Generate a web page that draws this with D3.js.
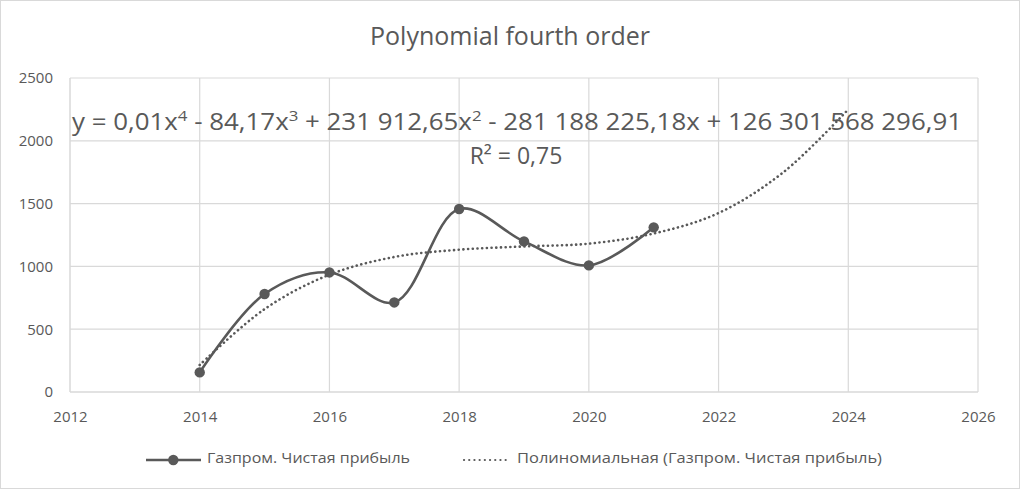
<!DOCTYPE html>
<html>
<head>
<meta charset="utf-8">
<script src="https://cdn.jsdelivr.net/npm/d3@7"></script>
<style>
  body { margin: 0; background: #fff; }
  svg { display: block; font-family: "Open Sans", "Noto Sans", sans-serif; }
</style>
</head>
<body>
<div id="chart"></div>
<script>
// data
const years   = [2014, 2015, 2016, 2017, 2018, 2019, 2020, 2021]
const profit  = [156, 780, 952, 713, 1457, 1199, 1008, 1311]
const trendX  = [2014, 2015, 2016, 2017, 2018, 2019, 2020, 2021, 2022, 2023, 2024]
const trendY  = [215, 660, 934, 1075, 1133, 1159, 1181, 1262, 1425, 1750, 2250]
const xTicks  = [2012, 2014, 2016, 2018, 2020, 2022, 2024, 2026]
const yTicks  = [0, 500, 1000, 1500, 2000, 2500]
const seriesName = 'Газпром. Чистая прибыль'
const trendName  = 'Полиномиальная (Газпром. Чистая прибыль)'

const W = 1021, H = 490,
      m = { left: 70, right: 1021 - 978, top: 78, bottom: 490 - 392 },
      ink = '#595959', grid = '#d9d9d9'

const svg = d3.select('#chart').append('svg').attr('width', W).attr('height', H)

svg.append('rect')
  .attr('x', 0.5).attr('y', 0.5).attr('width', W - 2).attr('height', H - 2)
  .attr('fill', '#fff').attr('stroke', grid)

const x = d3.scaleLinear().domain([2012, 2026]).range([m.left, W - m.right]),
      y = d3.scaleLinear().domain([0, 2500]).range([H - m.bottom, m.top])

// grid
svg.append('g')
  .selectAll('line.h').data(yTicks).enter().append('line')
  .attr('x1', x(2012)).attr('x2', x(2026))
  .attr('y1', d => y(d)).attr('y2', d => y(d))
  .attr('stroke', grid).attr('stroke-width', d => d === 0 ? 1.5 : 1.2)

svg.append('g')
  .selectAll('line.v').data(xTicks).enter().append('line')
  .attr('y1', y(0)).attr('y2', y(2500))
  .attr('x1', d => x(d)).attr('x2', d => x(d))
  .attr('stroke', grid).attr('stroke-width', d => d === 2012 ? 1.5 : 1.2)

// axis labels
const yAxis = svg.append('g').attr('transform', `translate(${x(2012) - 17},0)`)
  .call(d3.axisLeft(y).tickValues(yTicks).tickFormat(d3.format('d')).tickSize(0).tickPadding(0))
yAxis.select('.domain').remove()
yAxis.selectAll('text').attr('fill', ink).style('font-size', '15px')
  .style('font-family', '"Open Sans", sans-serif')

const xAxis = svg.append('g').attr('transform', `translate(0,${y(0) + 19})`)
  .call(d3.axisBottom(x).tickValues(xTicks).tickFormat(d3.format('d')).tickSize(0).tickPadding(0))
xAxis.select('.domain').remove()
xAxis.selectAll('text').attr('fill', ink).style('font-size', '15px')
  .style('font-family', '"Open Sans", sans-serif')

// title
svg.append('text')
  .attr('x', 510).attr('y', 45).attr('text-anchor', 'middle')
  .attr('fill', ink).style('font-size', '25px')
  .attr('textLength', 280).attr('lengthAdjust', 'spacingAndGlyphs')
  .text('Polynomial fourth order')

// trendline
svg.append('path')
  .datum(d3.zip(trendX, trendY))
  .attr('fill', 'none').attr('stroke', ink).attr('stroke-width', 2.6)
  .attr('stroke-dasharray', '0.1,4.6').attr('stroke-linecap', 'round')
  .attr('d', d3.line().x(d => x(d[0])).y(d => y(d[1])).curve(d3.curveCatmullRom))

// series
const pts = d3.zip(years, profit)
svg.append('path')
  .datum(pts)
  .attr('fill', 'none').attr('stroke', ink).attr('stroke-width', 2.6)
  .attr('d', d3.line().x(d => x(d[0])).y(d => y(d[1])).curve(d3.curveCatmullRom.alpha(0.5)))

svg.append('g').selectAll('circle').data(pts).enter().append('circle')
  .attr('cx', d => x(d[0])).attr('cy', d => y(d[1])).attr('r', 5.2).attr('fill', ink)

// equation label
const eq = svg.append('text')
  .attr('x', 72).attr('y', 130).attr('fill', ink).style('font-size', '23px')
const parts = [['y = 0,01x'], ['4', 1], [' - 84,17x'], ['3', 1], [' + 231 912,65x'], ['2', 1],
               [' - 281 188 225,18x + 126 301 568 296,91']]
parts.forEach(p => {
  eq.append('tspan').text(p[0])
    .attr('dy', p[1] ? -9 : (eq.selectAll('tspan').size() > 1 ? 9 : 0))
    .style('font-size', p[1] ? '15px' : '23px')
})
eq.attr('textLength', 890).attr('lengthAdjust', 'spacingAndGlyphs')

svg.append('text')
  .attr('x', 516).attr('y', 164).attr('text-anchor', 'middle')
  .attr('fill', ink).style('font-size', '23px')
  .text('R² = 0,75')

// legend
const lg = svg.append('g').attr('transform', 'translate(0,460)')
lg.append('line').attr('x1', 146).attr('x2', 201).attr('stroke', ink).attr('stroke-width', 2.6)
lg.append('circle').attr('cx', 173.3).attr('r', 5.2).attr('fill', ink)
lg.append('text').attr('x', 207).attr('y', 3).attr('fill', ink).style('font-size', '15px')
  .attr('textLength', 203).attr('lengthAdjust', 'spacingAndGlyphs').text(seriesName)
lg.append('line').attr('x1', 464).attr('x2', 510).attr('stroke', ink).attr('stroke-width', 2.2)
  .attr('stroke-dasharray', '0.1,5.1').attr('stroke-linecap', 'round')
lg.append('text').attr('x', 517).attr('y', 3).attr('fill', ink).style('font-size', '15px')
  .attr('textLength', 365).attr('lengthAdjust', 'spacingAndGlyphs').text(trendName)
</script>
</body>
</html>
